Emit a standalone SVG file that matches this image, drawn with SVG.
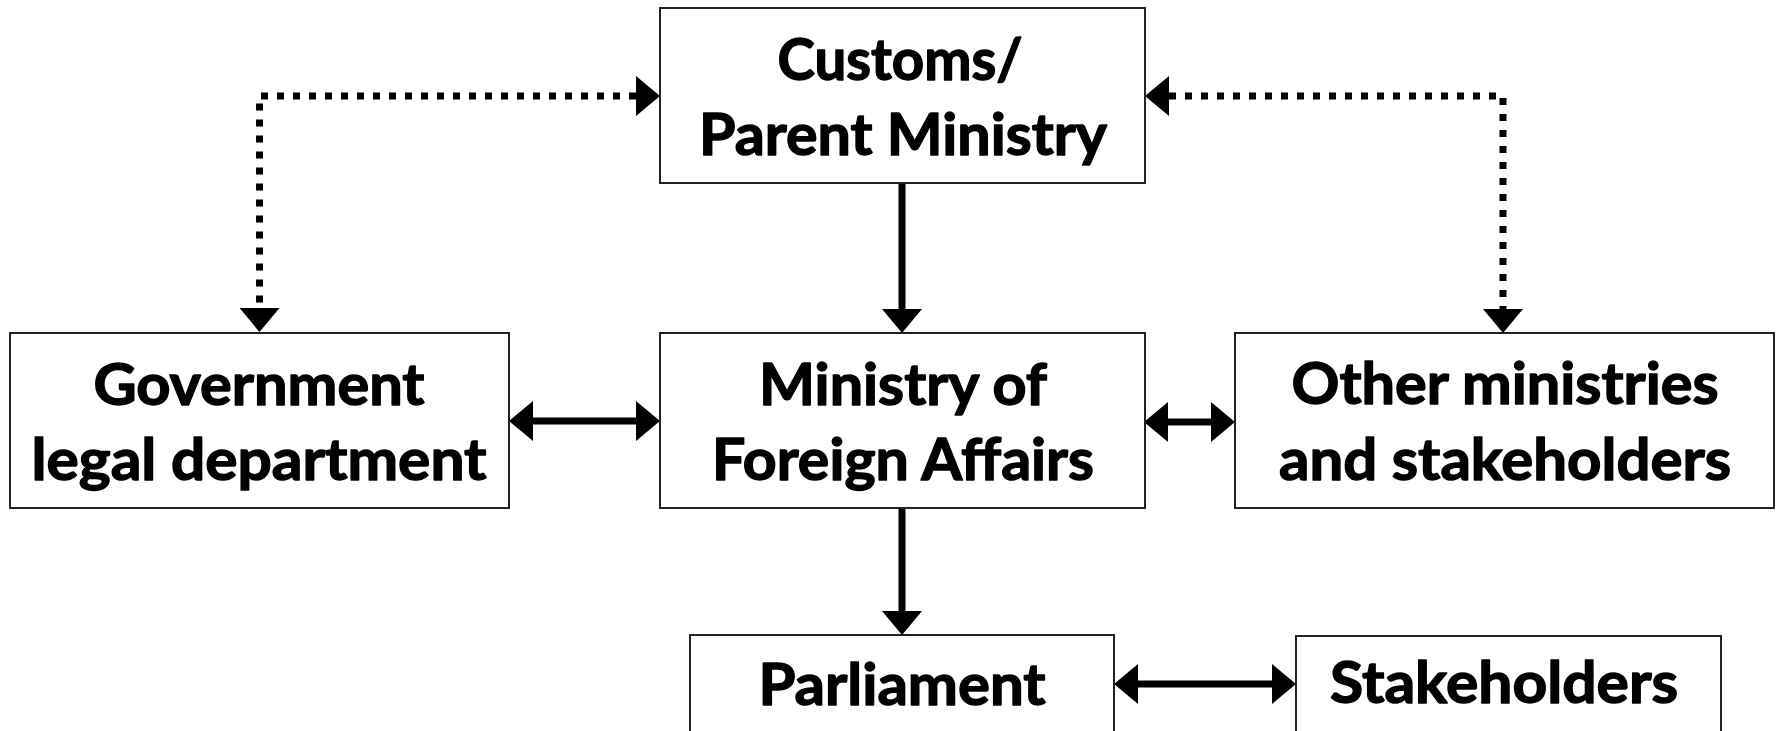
<svg xmlns="http://www.w3.org/2000/svg" width="1777" height="731" viewBox="0 0 1777 731">
  <defs>
    <style>
      .box { fill: #ffffff; stroke: #222222; stroke-width: 2; }
      .lbl { font-family: Lato, "Open Sans", "Liberation Sans", sans-serif; font-weight: 700; font-size: 58px; fill: #000000; stroke: #000000; stroke-width: 1.4; stroke-linejoin: round; text-anchor: middle; }
      .solid { fill: none; stroke: #000000; stroke-width: 7; }
      .dotted { fill: none; stroke: #000000; stroke-width: 7; stroke-dasharray: 7 9; }
    </style>
    <marker id="tri" viewBox="0 0 24 40" markerWidth="24" markerHeight="40" refX="0" refY="20" orient="auto-start-reverse" markerUnits="userSpaceOnUse">
      <polygon points="0,0 24,20 0,40" fill="#000000"/>
    </marker>
  </defs>
  <rect x="0" y="0" width="1777" height="731" fill="#ffffff"/>

  <g id="connectors">
    <path class="dotted" d="M636,96 H259.5 V308" marker-start="url(#tri)" marker-end="url(#tri)"/>
    <path class="dotted" d="M1169,96 H1503 V309" marker-start="url(#tri)" marker-end="url(#tri)"/>
    <path class="solid" d="M902,183 V309" marker-end="url(#tri)"/>
    <path class="solid" d="M902,508 V611" marker-end="url(#tri)"/>
    <path class="solid" d="M533,421 H636" marker-start="url(#tri)" marker-end="url(#tri)"/>
    <path class="solid" d="M1168,422 H1211" marker-start="url(#tri)" marker-end="url(#tri)"/>
    <path class="solid" d="M1138,684 H1272" marker-start="url(#tri)" marker-end="url(#tri)"/>
  </g>

  <g id="customs">
    <rect class="box" x="660" y="8" width="485" height="175"/>
    <text class="lbl" x="900" y="80" textLength="245" lengthAdjust="spacingAndGlyphs">Customs/</text>
    <text class="lbl" x="903" y="155" textLength="408" lengthAdjust="spacingAndGlyphs">Parent Ministry</text>
  </g>

  <g id="government">
    <rect class="box" x="10" y="333" width="499" height="175"/>
    <text class="lbl" x="259" y="405" textLength="331" lengthAdjust="spacingAndGlyphs">Government</text>
    <text class="lbl" x="259" y="480" textLength="455" lengthAdjust="spacingAndGlyphs">legal department</text>
  </g>

  <g id="mfa">
    <rect class="box" x="660" y="333" width="485" height="175"/>
    <text class="lbl" x="903" y="405" textLength="288" lengthAdjust="spacingAndGlyphs">Ministry of</text>
    <text class="lbl" x="903" y="480" textLength="382" lengthAdjust="spacingAndGlyphs">Foreign Affairs</text>
  </g>

  <g id="other">
    <rect class="box" x="1235" y="333" width="539" height="175"/>
    <text class="lbl" x="1505" y="404" textLength="427" lengthAdjust="spacingAndGlyphs">Other ministries</text>
    <text class="lbl" x="1505" y="480" textLength="452" lengthAdjust="spacingAndGlyphs">and stakeholders</text>
  </g>

  <g id="parliament">
    <rect class="box" x="690" y="635" width="424" height="120"/>
    <text class="lbl" x="902" y="705" textLength="287" lengthAdjust="spacingAndGlyphs">Parliament</text>
  </g>

  <g id="stakeholders">
    <rect class="box" x="1296" y="636" width="425" height="120"/>
    <text class="lbl" x="1504" y="703" textLength="348" lengthAdjust="spacingAndGlyphs">Stakeholders</text>
  </g>
</svg>
